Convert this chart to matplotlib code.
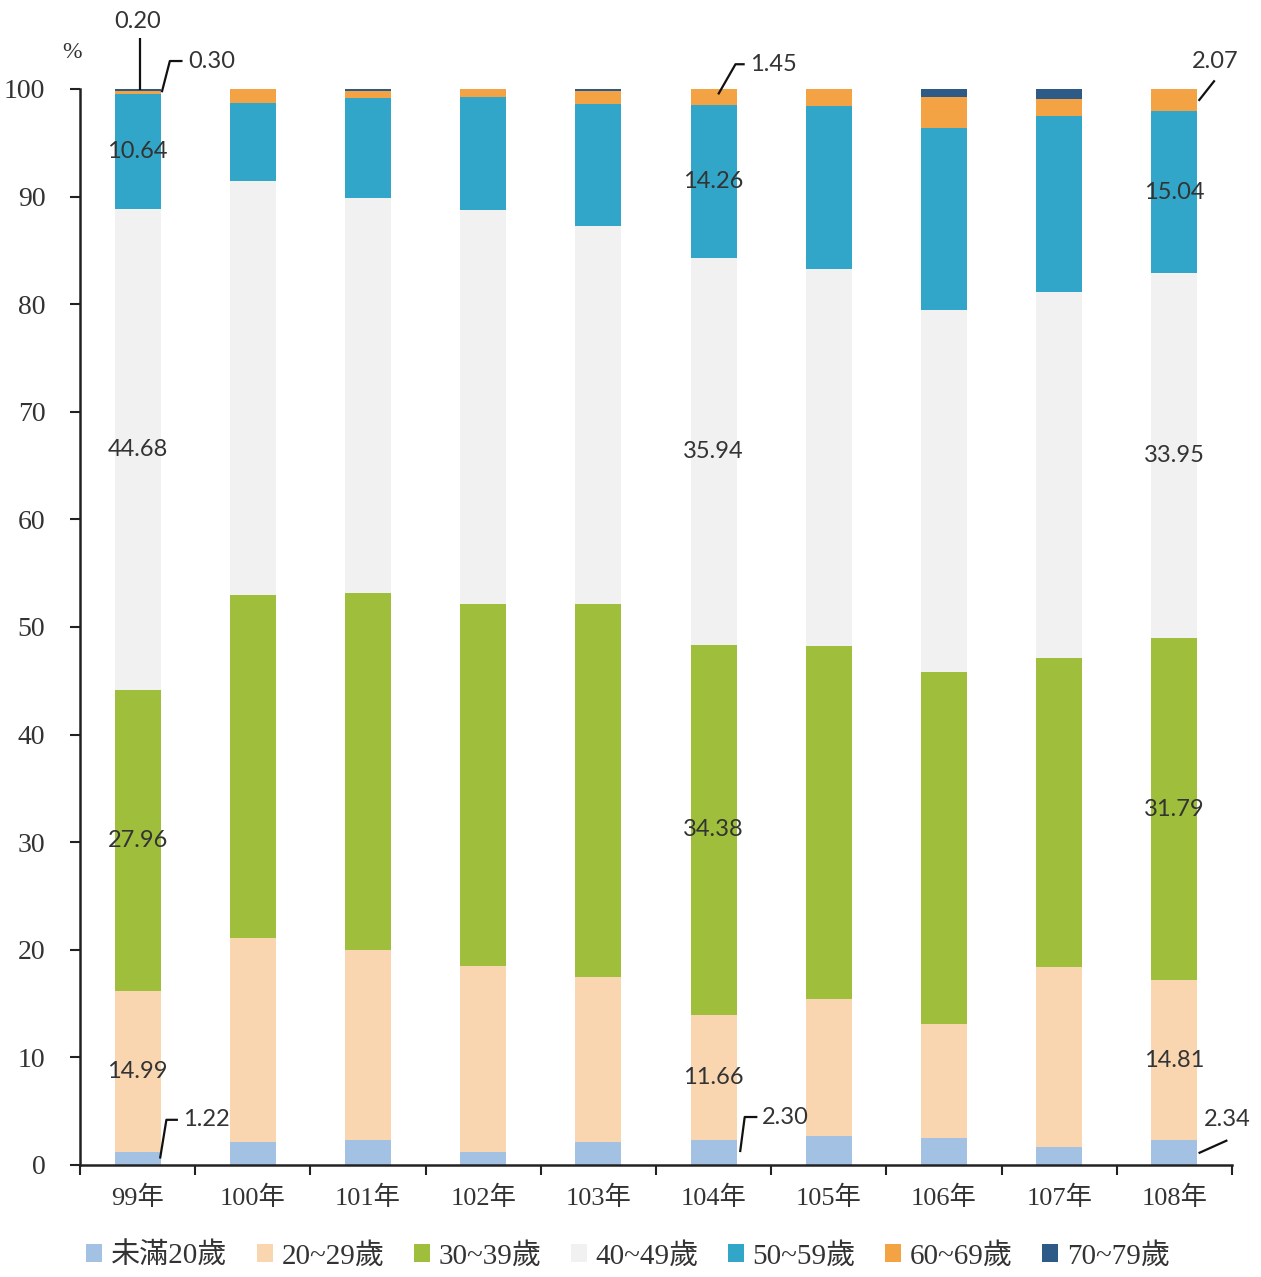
import matplotlib
matplotlib.use("Agg")
import matplotlib.pyplot as plt
from matplotlib.patches import Patch
import numpy as np

years = ["99年", "100年", "101年", "102年", "103年", "104年", "105年", "106年", "107年", "108年"]
series_names = ["未滿20歲", "20~29歲", "30~39歲", "40~49歲", "50~59歲", "60~69歲", "70~79歲"]

under20 = [1.22, 2.10, 2.30, 1.25, 2.10, 2.30, 2.70, 2.50, 1.70, 2.34]
age20_29 = [14.99, 19.00, 17.70, 17.25, 15.40, 11.66, 12.70, 10.60, 16.70, 14.81]
age30_39 = [27.96, 31.90, 33.20, 33.60, 34.60, 34.38, 32.80, 32.70, 28.70, 31.79]
age40_49 = [44.68, 38.45, 36.70, 36.70, 35.20, 35.94, 35.10, 33.70, 34.00, 33.95]
age50_59 = [10.64, 7.25, 9.30, 10.50, 11.30, 14.26, 15.10, 16.90, 16.40, 15.04]
age60_69 = [0.30, 1.30, 0.60, 0.70, 1.20, 1.45, 1.60, 2.90, 1.60, 2.07]
age70_79 = [0.20, 0.00, 0.20, 0.00, 0.20, 0.00, 0.00, 0.70, 0.90, 0.00]

colors = ["#A3C1E2", "#F9D6B0", "#9EBE3C", "#F1F1F1", "#31A6C9", "#F3A244", "#2E5A88"]

series = [under20, age20_29, age30_39, age40_49, age50_59, age60_69, age70_79]

serif = ["Liberation Serif", "Noto Sans CJK TC"]
plt.rcParams["font.family"] = serif

fig = plt.figure(figsize=(12.61, 12.77), dpi=100)
ax = fig.add_axes([80 / 1261, 1 - 1165 / 1277, (1232 - 80) / 1261, (1165 - 89) / 1277])

x = np.arange(len(years))
bottom = np.zeros(len(years))
bars = []
for vals, c in zip(series, colors):
    v = np.array(vals)
    b = ax.bar(x, v, width=0.40, bottom=bottom, color=c, edgecolor="none")
    bars.append((b, v, bottom.copy()))
    bottom += v

ax.set_xlim(-0.5, len(years) - 0.5)
ax.set_ylim(0, 100)
ax.set_yticks(np.arange(0, 101, 10))

ax.set_yticklabels([str(t) for t in range(0, 101, 10)], fontsize=20, color="#333333")
ax.set_xticks(x)
ax.set_xticklabels(years, fontsize=19, color="#333333")
ax.set_xticks(np.arange(-0.5, len(years), 1.0), minor=True)
ax.tick_params(axis="x", which="major", length=0, pad=15)
ax.tick_params(axis="x", which="minor", length=7, width=1.5, direction="out", color="#222222")
ax.tick_params(axis="y", which="major", length=7, width=1.5, direction="out", pad=18, color="#222222")

for s in ["top", "right"]:
    ax.spines[s].set_visible(False)
for s in ["left", "bottom"]:
    ax.spines[s].set_linewidth(1.8)
    ax.spines[s].set_color("#222222")

# inline data labels for 99, 104, 108
label_idx = [0, 5, 9]
label_font = dict(family="Lato", fontsize=17, color="#333333", ha="center", va="center")
for si in [1, 2, 3, 4]:
    b, v, bot = bars[si]
    for i in label_idx:
        ax.text(x[i], bot[i] + v[i] / 2, f"{v[i]:.2f}", **label_font)

lkw = dict(color="#111111", lw=1.6, clip_on=False, solid_capstyle="butt")
tkw = dict(family="Lato", fontsize=17, color="#333333", clip_on=False)

# 99年 0.20 (70-79)
ax.plot([0.02, 0.02], [104.7, 99.95], **lkw)
ax.text(0.0, 106.3, f"{age70_79[0]:.2f}", ha="center", va="center", **tkw)
# 99年 0.30 (60-69)
ax.plot([0.39, 0.28, 0.21], [102.6, 102.6, 99.7], **lkw)
ax.text(0.44, 102.6, f"{age60_69[0]:.2f}", ha="left", va="center", **tkw)
# 99年 1.22
ax.plot([0.35, 0.25, 0.195], [4.2, 4.2, 0.6], **lkw)
ax.text(0.39, 4.2, f"{under20[0]:.2f}", ha="left", va="center", **tkw)
# 104年 1.45
ax.plot([5.27, 5.19, 5.04], [102.3, 102.3, 99.5], **lkw)
ax.text(5.32, 102.3, f"{age60_69[5]:.2f}", ha="left", va="center", **tkw)
# 104年 2.30
ax.plot([5.38, 5.27, 5.23], [4.46, 4.46, 1.2], **lkw)
ax.text(5.42, 4.46, f"{under20[5]:.2f}", ha="left", va="center", **tkw)
# 108年 2.07
ax.plot([9.35, 9.21], [100.8, 98.9], **lkw)
ax.text(9.35, 102.6, f"{age60_69[9]:.2f}", ha="center", va="center", **tkw)
# 108年 2.34
ax.plot([9.46, 9.21], [2.3, 1.1], **lkw)
ax.text(9.46, 4.2, f"{under20[9]:.2f}", ha="center", va="center", **tkw)

fig.text(72 / 1261, 1 - 52 / 1277, "%", fontsize=17, color="#333333",
         ha="center", va="center")

handles = [Patch(facecolor=c, edgecolor="none") for c in colors]
fig.legend(handles, series_names, loc="center", bbox_to_anchor=(628 / 1261, 1 - 1256 / 1277),
           ncol=7, frameon=False, prop={"size": 21},
           handlelength=0.55, handleheight=0.55, handletextpad=0.3, columnspacing=1.0,
           labelcolor="#333333")

fig.savefig("out.png", dpi=100, facecolor="white")
